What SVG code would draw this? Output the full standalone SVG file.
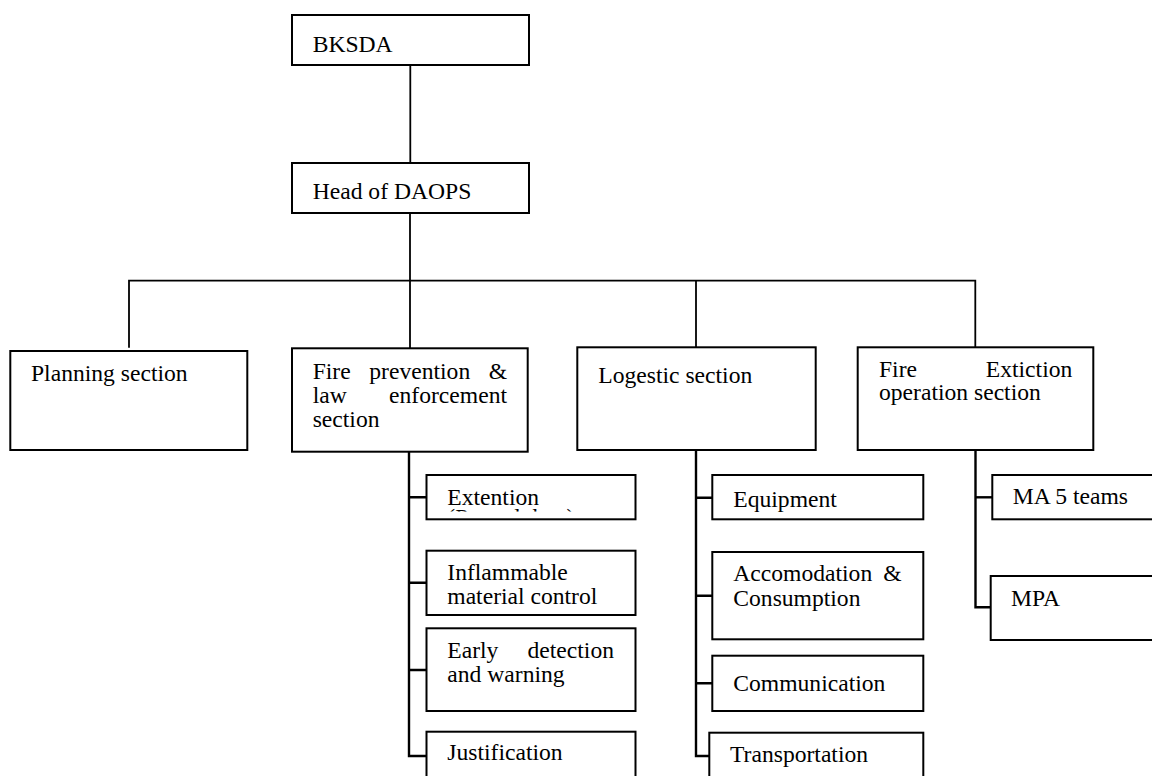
<svg xmlns="http://www.w3.org/2000/svg" width="1152" height="776" viewBox="0 0 1152 776">
  <style>
    .box { fill: #ffffff; stroke: #000000; stroke-width: 2; }
    .lbl { font-family: "Liberation Serif", "Times New Roman", serif; font-size: 23.6px; fill: #000000; }
    .end { text-anchor: end; }
    .link { fill: none; stroke: #000000; stroke-width: 1.8; }
    .trunk { fill: none; stroke: #000000; stroke-width: 2.4; }
  </style>
  <defs>
    <!-- the text frame of the Extention box only shows the top of its second line -->
    <clipPath id="extClip">
      <rect x="427" y="476" width="208" height="35.5"/>
    </clipPath>
  </defs>
  <rect width="1152" height="776" fill="#ffffff"/>

  <!-- connectors -->
  <g id="connectors">
    <path class="link" d="M410.3 65 V163"/>
    <path class="link" d="M410 208 V348.3"/>
    <path class="link" d="M129 347.7 V280.7 H975.3 V347.3"/>
    <path class="link" d="M696 280.7 V347.3"/>
    <!-- fire prevention branch -->
    <path class="trunk" d="M409 451.7 V756 H426.5"/>
    <path class="trunk" d="M409 497.3 H426.5 M409 582.7 H426.5 M409 670 H426.5"/>
    <!-- logistic branch -->
    <path class="trunk" d="M696 450 V756 H709.3"/>
    <path class="trunk" d="M696 497.7 H712.3 M696 595.7 H712.3 M696 683.3 H712.3"/>
    <!-- fire extinction branch -->
    <path class="trunk" d="M975.5 450 V607.3 H990.7"/>
    <path class="trunk" d="M975.5 497.3 H992.3"/>
  </g>

  <g id="bksda">
    <rect class="box" x="292" y="15" width="237" height="50"/>
    <text class="lbl" x="312.7" y="51.7">BKSDA</text>
  </g>

  <g id="head-daops">
    <rect class="box" x="292" y="163" width="237" height="50"/>
    <text class="lbl" x="312.7" y="199.3">Head of DAOPS</text>
  </g>

  <g id="planning">
    <rect class="box" x="10.3" y="351" width="237" height="99"/>
    <text class="lbl" x="31" y="380.7">Planning section</text>
  </g>

  <g id="fire-prevention">
    <rect class="box" x="292" y="348.3" width="235.7" height="103.4"/>
    <text class="lbl" x="312.7" y="379.3">Fire</text>
    <text class="lbl" x="369.3" y="379.3">prevention</text>
    <text class="lbl end" x="507" y="379.3">&amp;</text>
    <text class="lbl" x="312.7" y="403">law</text>
    <text class="lbl end" x="507" y="403">enforcement</text>
    <text class="lbl" x="312.7" y="426.7">section</text>
  </g>

  <g id="logistic">
    <rect class="box" x="577.3" y="347.3" width="238.4" height="102.7"/>
    <text class="lbl" x="598.3" y="382.7">Logestic section</text>
  </g>

  <g id="fire-extiction">
    <rect class="box" x="857.7" y="347.3" width="235.6" height="102.7"/>
    <text class="lbl" x="879" y="376.7">Fire</text>
    <text class="lbl end" x="1072.3" y="376.7">Extiction</text>
    <text class="lbl" x="879" y="400">operation section</text>
  </g>

  <g id="extention">
    <rect class="box" x="426.5" y="475" width="209" height="44.3"/>
    <text class="lbl" x="447.3" y="505">Extention</text>
    <text class="lbl" x="447.3" y="524.5" clip-path="url(#extClip)">(Penyuluhan)</text>
  </g>

  <g id="inflammable">
    <rect class="box" x="426.5" y="550.7" width="209" height="64.3"/>
    <text class="lbl" x="447.3" y="580">Inflammable</text>
    <text class="lbl" x="447.3" y="604.3">material control</text>
  </g>

  <g id="early-detection">
    <rect class="box" x="426.5" y="628.3" width="209" height="82.7"/>
    <text class="lbl" x="447.3" y="658.3">Early</text>
    <text class="lbl end" x="614" y="658.3">detection</text>
    <text class="lbl" x="447.3" y="681.7">and warning</text>
  </g>

  <g id="justification">
    <rect class="box" x="426.5" y="731.7" width="209" height="60"/>
    <text class="lbl" x="447.3" y="760">Justification</text>
  </g>

  <g id="equipment">
    <rect class="box" x="712.3" y="475" width="211" height="44.3"/>
    <text class="lbl" x="733.3" y="506.7">Equipment</text>
  </g>

  <g id="accomodation">
    <rect class="box" x="712.3" y="552" width="211" height="87.3"/>
    <text class="lbl" x="733.3" y="580.7">Accomodation</text>
    <text class="lbl end" x="901.7" y="580.7">&amp;</text>
    <text class="lbl" x="733.3" y="606">Consumption</text>
  </g>

  <g id="communication">
    <rect class="box" x="712.3" y="655.7" width="211" height="55.3"/>
    <text class="lbl" x="733.3" y="690.7">Communication</text>
  </g>

  <g id="transportation">
    <rect class="box" x="709.3" y="732.7" width="214" height="60"/>
    <text class="lbl" x="730" y="761.7">Transportation</text>
  </g>

  <g id="ma-5-teams">
    <rect class="box" x="992.3" y="475" width="170" height="44.3"/>
    <text class="lbl" x="1012.7" y="504.3">MA 5 teams</text>
  </g>

  <g id="mpa">
    <rect class="box" x="990.7" y="576" width="172" height="64"/>
    <text class="lbl" x="1011" y="605.7">MPA</text>
  </g>
</svg>
